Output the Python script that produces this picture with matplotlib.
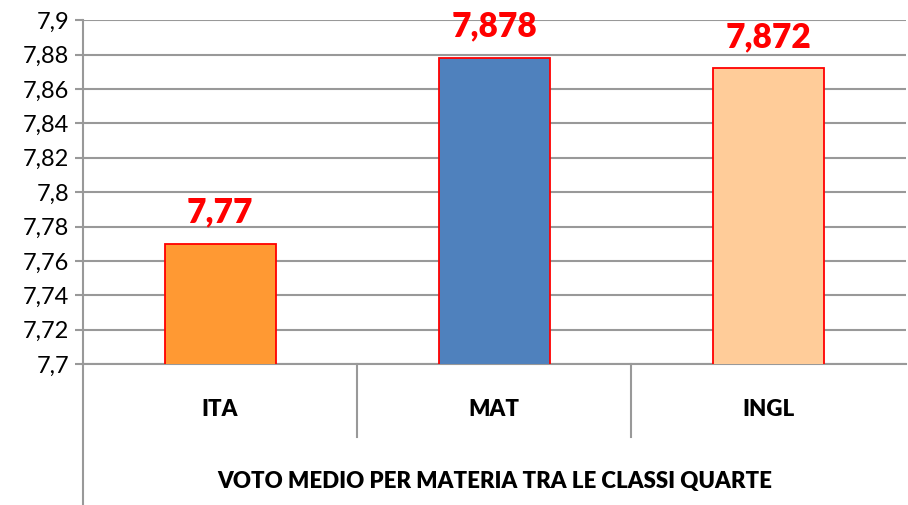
import numpy as np
import matplotlib
matplotlib.use('Agg')
import matplotlib.pyplot as plt
from matplotlib.ticker import FuncFormatter, MultipleLocator

plt.rcParams['font.family'] = ['Lato', 'DejaVu Sans']

materie = ['ITA', 'MAT', 'INGL']
voti = [7.77, 7.878, 7.872]
etichette = ['7,77', '7,878', '7,872']
colori = ['#FF9933', '#4F81BD', '#FFCC99']
titolo = 'VOTO MEDIO PER MATERIA TRA LE CLASSI QUARTE'

grigio = '#999999'

fig = plt.figure(figsize=(9.08, 5.05), dpi=100)
ax = fig.add_axes([0.0914, 0.279, 0.906, 0.681])

x = np.arange(len(materie))
bars = ax.bar(x, voti, width=0.405, color=colori, edgecolor='red', linewidth=1.3, zorder=3)
ax.bar_label(bars, labels=etichette, padding=11, color='red', fontweight='heavy', fontsize=24)

ax.set_ylim(7.7, 7.9)
ax.set_xlim(-0.5, 2.5)
ax.yaxis.set_major_locator(MultipleLocator(0.02))
ax.yaxis.set_major_formatter(FuncFormatter(lambda v, p: ('%g' % round(v, 3)).replace('.', ',')))
ax.grid(axis='y', color=grigio, linewidth=1.5, zorder=0)
ax.set_axisbelow(True)

for s in ['top', 'right']:
    ax.spines[s].set_visible(False)
for s in ['left', 'bottom']:
    ax.spines[s].set_color(grigio)
    ax.spines[s].set_linewidth(1.5)

ax.tick_params(axis='y', length=6, width=1.5, color=grigio, labelsize=17, pad=4)
ax.set_xticks(x)
ax.set_xticklabels(materie, fontweight='heavy', fontsize=16)
ax.tick_params(axis='x', length=0, pad=25)
ax.set_xlabel(titolo, fontweight='heavy', fontsize=16, labelpad=37)

# asse sinistro prolungato e separatori delle categorie
ax.plot([0, 0], [0, -0.42], transform=ax.transAxes, color=grigio, lw=1.5, clip_on=False)
for xs in [1/3, 2/3]:
    ax.plot([xs, xs], [0, -0.212], transform=ax.transAxes, color=grigio, lw=1.5, clip_on=False)

plt.savefig('out.png', dpi=100)
